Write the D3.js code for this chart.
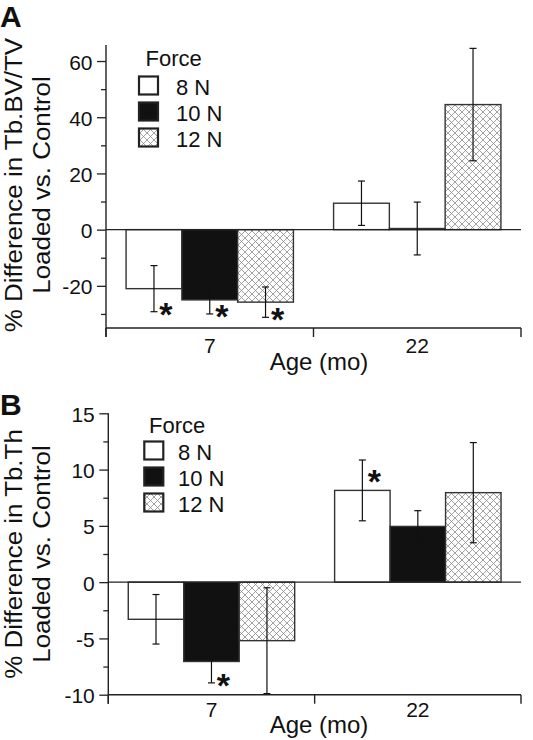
<!DOCTYPE html>
<html><head><meta charset="utf-8">
<script src="https://cdn.jsdelivr.net/npm/d3@7"></script>
<style>
body{margin:0;background:#fff}
svg{display:block}
text{font-family:"Liberation Sans",Arial,Helvetica,sans-serif;fill:#111}
</style>
</head><body>
<svg id="c" width="533" height="740"></svg>
<script>
// ---------- data ----------
const ages = ["7", "22"];
const forces = ["8 N", "10 N", "12 N"];
// Panel A: % difference in Tb.BV/TV (rows = force, cols = age)
const bvtvMean = [[-21.0, 9.4], [-25.0, 0.4], [-25.8, 44.5]];
const bvtvErr  = [[8.2, 7.9], [5.0, 9.4], [5.4, 20.0]];
const bvtvSig  = [[true, false], [true, false], [true, false]];
const bvtvTicks = [-20, 0, 20, 40, 60];
const bvtvMinorTicks = [-30, -10, 10, 30, 50];
// Panel B: % difference in Tb.Th
const thMean = [[-3.3, 8.15], [-7.05, 4.95], [-5.2, 7.95]];
const thErr  = [[2.2, 2.7], [1.9, 1.4], [4.7, 4.45]];
const thSig  = [[false, true], [true, false], [false, false]];
const thTicks = [-10, -5, 0, 5, 10, 15];
const thMinorTicks = [-7.5, -2.5, 2.5, 7.5, 12.5];

const svg = d3.select("#c");
const defs = svg.append("defs");
const pat = defs.append("pattern").attr("id", "hatch")
  .attr("patternUnits", "userSpaceOnUse").attr("width", 7).attr("height", 7);
pat.append("rect").attr("width", 7).attr("height", 7).attr("fill", "#fff");
pat.append("path").attr("d", "M-1,-1L8,8M-1,8L8,-1M-1,6L1,8M6,-1L8,1M6,8L8,6M-1,1L1,-1")
  .attr("stroke", "#8a8a8a").attr("stroke-width", 0.8).attr("fill", "none");

const fills = ["#fff", "#111", "url(#hatch)"];
const INK = "#222";
const STAR = 34;

function panel(cfg) {
  const g = svg.append("g");
  const y = d3.scaleLinear().domain(cfg.domain).range([cfg.bottom, cfg.top]);
  const x = d3.scaleBand().domain(ages).range([cfg.left, cfg.right]).paddingInner(0).paddingOuter(0);
  const xf = d3.scaleBand().domain(forces).range([0, x.bandwidth()]).paddingInner(0).paddingOuter(0.36);

  // panel letter
  g.append("text").attr("x", 0).attr("y", cfg.letterY).attr("font-size", 30)
    .attr("font-weight", "bold").text(cfg.letter);

  // y axis ticks
  const yAx = g.append("g").attr("transform", `translate(${cfg.left},0)`)
    .call(d3.axisLeft(y).tickValues(cfg.ticks).tickSize(9).tickPadding(4.5).tickFormat(d => String(d)));
  yAx.select(".domain").remove();
  yAx.selectAll("line").attr("stroke", INK).attr("stroke-width", 1.3);
  yAx.selectAll("text").attr("font-size", 21).attr("dy", "0.38em").attr("fill", "#111");
  const yMin = g.append("g").attr("transform", `translate(${cfg.left},0)`)
    .call(d3.axisLeft(y).tickValues(cfg.minor).tickSize(5).tickFormat(""));
  yMin.select(".domain").remove();
  yMin.selectAll("line").attr("stroke", INK).attr("stroke-width", 1.3);

  // bars
  forces.forEach((f, fi) => {
    ages.forEach((a, ai) => {
      const v = cfg.mean[fi][ai];
      const bx = x(a) + xf(f);
      g.append("rect").attr("x", bx).attr("width", xf.bandwidth())
        .attr("y", y(Math.max(0, v))).attr("height", Math.abs(y(v) - y(0)))
        .attr("fill", fills[fi]).attr("stroke", "#333").attr("stroke-width", 1.4);
    });
  });

  // zero line
  g.append("line").attr("x1", cfg.left).attr("x2", cfg.right)
    .attr("y1", y(0)).attr("y2", y(0)).attr("stroke", INK).attr("stroke-width", 1.3);

  // error bars + significance
  forces.forEach((f, fi) => {
    ages.forEach((a, ai) => {
      const v = cfg.mean[fi][ai], e = cfg.err[fi][ai];
      const cx = x(a) + xf(f) + xf.bandwidth() / 2;
      const y1 = y(v + e), y2 = y(v - e);
      g.append("line").attr("x1", cx).attr("x2", cx).attr("y1", y1).attr("y2", y2)
        .attr("stroke", "#111").attr("stroke-width", 1.2);
      [y1, y2].forEach(yy => g.append("line").attr("x1", cx - 3.5).attr("x2", cx + 3.5)
        .attr("y1", yy).attr("y2", yy).attr("stroke", "#111").attr("stroke-width", 1.2));
      if (cfg.sig[fi][ai]) {
        const cy = v < 0 ? y(v - e) - 5 : y(v + e) + 14;
        g.append("text").attr("x", cx + 12).attr("y", cy + 0.56 * STAR)
          .attr("text-anchor", "middle").attr("font-size", STAR).attr("font-weight", "bold").text("*");
      }
    });
  });

  // axis lines
  g.append("line").attr("x1", cfg.left).attr("x2", cfg.left).attr("y1", cfg.top).attr("y2", cfg.bottom + 9)
    .attr("stroke", INK).attr("stroke-width", 1.4);
  g.append("line").attr("x1", cfg.left).attr("x2", cfg.right).attr("y1", cfg.bottom).attr("y2", cfg.bottom)
    .attr("stroke", INK).attr("stroke-width", 1.4);
  const bounds = ages.map(a => x(a)).concat([x(ages[ages.length - 1]) + x.bandwidth()]);
  bounds.forEach(bx => g.append("line").attr("x1", bx).attr("x2", bx)
    .attr("y1", cfg.bottom).attr("y2", cfg.bottom + 9).attr("stroke", INK).attr("stroke-width", 1.4));
  const xAx = g.append("g").attr("transform", `translate(0,${cfg.bottom})`)
    .call(d3.axisBottom(x).tickSize(0).tickPadding(cfg.xPad));
  xAx.select(".domain").remove();
  xAx.selectAll("text").attr("font-size", 21).attr("fill", "#111");

  // x title
  g.append("text").attr("x", 319).attr("y", cfg.titleY).attr("text-anchor", "middle")
    .attr("font-size", 24).text("Age (mo)");

  // y title (two lines)
  const yc = cfg.yLabelCenter;
  g.append("text").attr("transform", `translate(22,${yc}) rotate(-90) scale(1.08,1)`).attr("text-anchor", "middle")
    .attr("font-size", 24).text(cfg.yTitle);
  g.append("text").attr("transform", `translate(50,${yc}) rotate(-90) scale(1.08,1)`).attr("text-anchor", "middle")
    .attr("font-size", 24).text("Loaded vs. Control");

  // legend
  const L = cfg.legend;
  g.append("text").attr("x", L.fx).attr("y", L.fy).attr("font-size", 22).text("Force");
  forces.forEach((f, fi) => {
    const by = L.by + fi * 26;
    g.append("rect").attr("x", L.bx).attr("y", by).attr("width", 19).attr("height", 18)
      .attr("fill", fills[fi]).attr("stroke", INK).attr("stroke-width", 2.2);
    g.append("text").attr("x", L.lx).attr("y", by + 18).attr("font-size", 22).text(f);
  });
}

panel({
  letter: "A", letterY: 27,
  left: 106, right: 521, top: 45, bottom: 328, domain: [-35, 65.7],
  ticks: bvtvTicks, minor: bvtvMinorTicks,
  mean: bvtvMean, err: bvtvErr, sig: bvtvSig,
  xPad: 10, titleY: 370, yLabelCenter: 185,
  yTitle: "% Difference in Tb.BV/TV",
  legend: { fx: 145.5, fy: 66, bx: 139, by: 76.5, lx: 176 }
});
panel({
  letter: "B", letterY: 415,
  left: 108.3, right: 521, top: 413.3, bottom: 694.7, domain: [-10, 15],
  ticks: thTicks, minor: thMinorTicks,
  mean: thMean, err: thErr, sig: thSig,
  xPad: 7, titleY: 733, yLabelCenter: 554,
  yTitle: "% Difference in Tb.Th",
  legend: { fx: 149, fy: 433, bx: 144.3, by: 441.5, lx: 178 }
});
</script>
</body></html>
